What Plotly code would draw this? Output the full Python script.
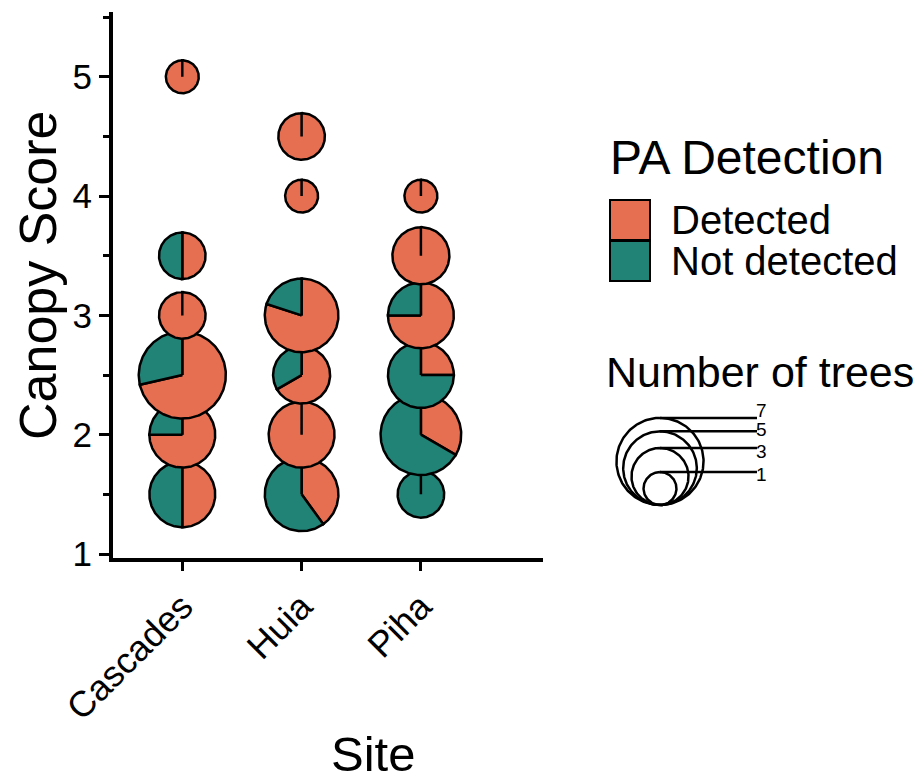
import numpy as np
import plotly.graph_objects as go

# ---- data -------------------------------------------------------------
sites = ["Cascades", "Huia", "Piha"]

cascades_score = [1.5, 2.0, 2.5, 3.0, 3.5, 5.0]
cascades_detected = [2, 3, 5, 2, 1, 1]
cascades_not_detected = [2, 1, 2, 0, 1, 0]

huia_score = [1.5, 2.0, 2.5, 3.0, 4.0, 4.5]
huia_detected = [2, 4, 2, 4, 1, 2]
huia_not_detected = [3, 0, 1, 1, 0, 0]

piha_score = [1.5, 2.0, 2.5, 3.0, 3.5, 4.0]
piha_detected = [0, 2, 1, 3, 3, 1]
piha_not_detected = [2, 4, 3, 1, 0, 0]

group_labels = ["Detected", "Not detected"]
group_colors = ["#E76F51", "#218276"]
size_breaks = [1, 3, 5, 7]
y_ticks = [1, 2, 3, 4, 5]

# ---- geometry helpers -------------------------------------------------
W, H = 920, 781
PX = 119.3            # pixels per data unit (equal aspect)
R_UNIT = 0.138        # radius of a one-tree pie, data units


def radius(n):
    return R_UNIT * np.sqrt(n)


def wedge(cx, cy, r, f0, f1):
    """Slice polygon from fraction f0 to f1, clockwise from 12 o'clock."""
    npts = max(int(240 * (f1 - f0)), 2)
    th = 2 * np.pi * np.linspace(f0, f1, npts)
    xs = np.concatenate([[cx], cx + r * np.sin(th), [cx]])
    ys = np.concatenate([[cy], cy + r * np.cos(th), [cy]])
    return xs, ys


fig = go.Figure()

site_data = [
    (cascades_score, cascades_detected, cascades_not_detected),
    (huia_score, huia_detected, huia_not_detected),
    (piha_score, piha_detected, piha_not_detected),
]

for si, (scores, det, nd) in enumerate(site_data):
    cx = si + 1
    order = np.argsort(scores)           # lower pies first, upper ones on top
    for k in order:
        counts = [det[k], nd[k]]
        total = sum(counts)
        r = radius(total)
        start = 0.0
        for g, c in enumerate(counts):
            if c == 0:
                continue
            end = start + c / total
            xs, ys = wedge(cx, scores[k], r, start, end)
            fig.add_trace(go.Scatter(
                x=xs, y=ys, mode="lines", fill="toself",
                fillcolor=group_colors[g],
                line=dict(color="black", width=2.5),
                hoverinfo="skip", showlegend=False,
                xaxis="x", yaxis="y",
            ))
            start = end

# ---- size legend (own axes with the same scale) ----------------------
lx0, lx1, ly_top, ly_bot = 600, 800, 395, 520
leg_cx = (660 - lx0) / PX
leg_base = (ly_bot - 505) / PX
line_end = (757 - lx0) / PX
th = np.linspace(0, 2 * np.pi, 200)
# vertical nudges (px) keeping the crowded break labels apart
size_label_shift = {7: 7, 5: 2, 3: -4, 1: -2}
for n in size_breaks[::-1]:
    r = radius(n)
    fig.add_trace(go.Scatter(
        x=leg_cx + r * np.sin(th), y=leg_base + r + r * np.cos(th),
        mode="lines", line=dict(color="black", width=2.5),
        hoverinfo="skip", showlegend=False, xaxis="x2", yaxis="y2",
    ))
    fig.add_trace(go.Scatter(
        x=[leg_cx, line_end], y=[leg_base + 2 * r, leg_base + 2 * r],
        mode="lines", line=dict(color="black", width=2.5),
        hoverinfo="skip", showlegend=False, xaxis="x2", yaxis="y2",
    ))
    fig.add_annotation(
        x=line_end, y=leg_base + 2 * r, xref="x2", yref="y2",
        text=str(n), showarrow=False, xanchor="left", yanchor="middle",
        yshift=size_label_shift[n], xshift=-2, font=dict(size=19),
        borderpad=0,
    )

# ---- axes -------------------------------------------------------------
x_px0, x_px1 = 113, 543
y_px_top, y_px_bot = 12, 558
x0 = 1 - (182.3 - x_px0) / PX
x1 = x0 + (x_px1 - x_px0) / PX
y0 = 1 - (y_px_bot - 554) / PX
y1 = y0 + (y_px_bot - y_px_top) / PX

font_family = "Liberation Sans, Arial, Helvetica, sans-serif"

fig.update_layout(
    width=W, height=H,
    margin=dict(l=0, r=0, t=0, b=0, autoexpand=False),
    paper_bgcolor="white", plot_bgcolor="white",
    font=dict(family=font_family, color="black"),
    showlegend=False,
    xaxis=dict(
        domain=[x_px0 / W, x_px1 / W], range=[x0, x1], automargin=False,
        tickvals=[1, 2, 3], ticktext=sites, tickangle=-45,
        tickfont=dict(size=36), ticks="outside", ticklen=9, tickwidth=3,
        tickcolor="black", showline=True, linecolor="black", linewidth=4,
        showgrid=False, zeroline=False, anchor="y",
    ),
    yaxis=dict(
        domain=[(H - y_px_bot) / H, (H - y_px_top) / H], range=[y0, y1],
        automargin=False,
        tickvals=y_ticks, tickfont=dict(size=35), ticks="outside",
        ticklen=10, tickwidth=3, tickcolor="black",
        minor=dict(dtick=0.5, tick0=0, ticks="outside", ticklen=6,
                   tickwidth=3, tickcolor="black", showgrid=False),
        showline=True, linecolor="black", linewidth=4,
        showgrid=False, zeroline=False, anchor="x",
    ),
    xaxis2=dict(
        domain=[lx0 / W, lx1 / W], range=[0, (lx1 - lx0) / PX],
        visible=False, anchor="y2", automargin=False,
    ),
    yaxis2=dict(
        domain=[(H - ly_bot) / H, (H - ly_top) / H],
        range=[0, (ly_bot - ly_top) / PX], visible=False, anchor="x2",
        automargin=False,
    ),
)

# ---- titles and colour legend ----------------------------------------
ann = [
    dict(text="Canopy Score", x=38 / W, y=(H - 275) / H, textangle=-90,
         font=dict(size=52), xanchor="center", yanchor="middle"),
    dict(text="Site", x=373 / W, y=(H - 754) / H,
         font=dict(size=49), xanchor="center", yanchor="middle"),
    dict(text="PA Detection", x=608 / W, y=(H - 157) / H,
         font=dict(size=48), xanchor="left", yanchor="middle"),
    dict(text="Number of trees", x=604 / W, y=(H - 372) / H,
         font=dict(size=43), xanchor="left", yanchor="middle"),
]
key_top = [200, 241]
for g, lab in enumerate(group_labels):
    t = key_top[g]
    fig.add_shape(type="rect", xref="paper", yref="paper",
                  x0=610 / W, x1=650 / W, y0=(H - t - 40) / H, y1=(H - t) / H,
                  fillcolor=group_colors[g], line=dict(color="black", width=2))
    ann.append(dict(text=lab, x=669 / W, y=(H - t - 20) / H,
                    font=dict(size=40), xanchor="left", yanchor="middle"))

for a in ann:
    a.update(xref="paper", yref="paper", showarrow=False)
    fig.add_annotation(**a)

fig.write_html("out.html")
